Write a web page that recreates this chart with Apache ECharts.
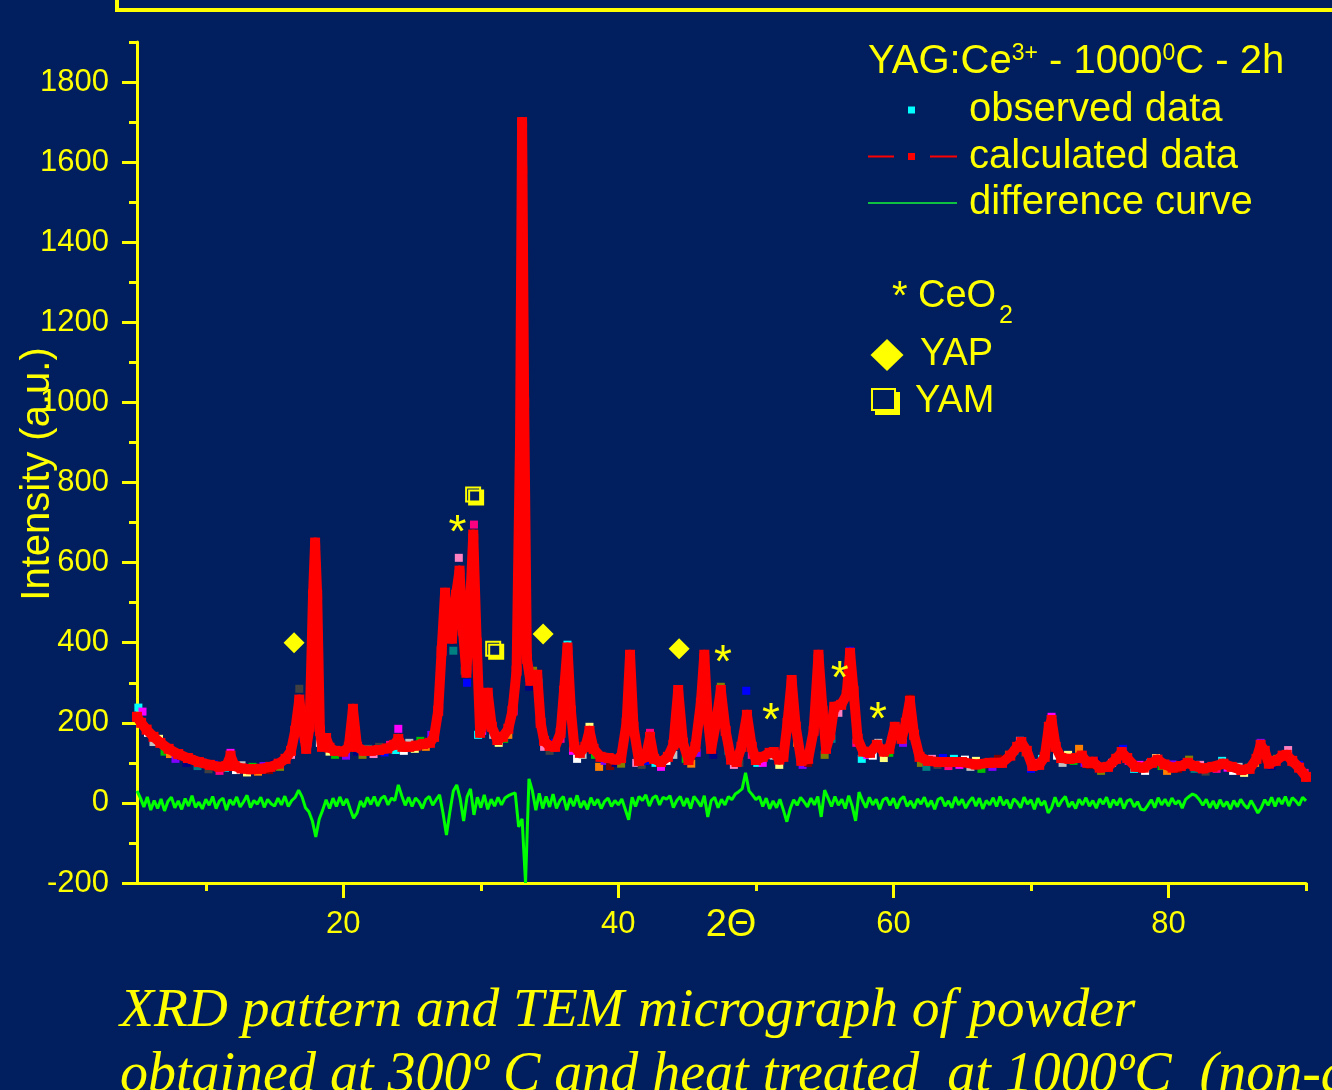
<!DOCTYPE html>
<html>
<head>
<meta charset="utf-8">
<script src="https://cdn.jsdelivr.net/npm/echarts@6/dist/echarts.min.js"></script>
<style>
html,body{margin:0;padding:0;background:#011f5f;}
#chart{width:1332px;height:1090px;}
</style>
</head>
<body>
<div id="chart"></div>
<script>
// ---------- DATA ----------
// calculated pattern: [2theta, intensity]
const calculated = [
[5.0,215],[5.3,200],[5.7,183],[6.2,165],[6.7,150],[7.3,135],[8.0,122],[8.7,112],[9.5,102],[10.3,95],
[11.0,90],[11.5,92],[11.8,118],[12.1,92],[12.6,86],[13.3,84],[14.0,85],[14.7,90],[15.3,98],[15.8,110],
[16.2,130],[16.5,180],[16.8,258],[17.05,190],[17.3,135],[17.55,190],[17.8,520],[17.95,650],[18.1,520],[18.3,180],
[18.45,140],[18.75,162],[19.0,138],[19.4,130],[20.0,128],[20.4,140],[20.7,235],[21.0,140],[21.5,130],[22.0,130],
[22.6,132],[23.2,136],[23.7,145],[24.0,160],[24.3,140],[24.8,140],[25.3,143],[25.8,147],[26.3,150],[26.6,165],
[26.9,230],[27.15,380],[27.4,525],[27.65,450],[27.9,410],[28.2,520],[28.45,580],[28.7,430],[28.95,325],[29.2,480],
[29.45,670],[29.7,400],[29.95,175],[30.2,200],[30.5,275],[30.8,190],[31.2,157],[31.6,165],[32.0,185],[32.3,230],
[32.6,330],[32.85,900],[33.0,1700],[33.15,1000],[33.35,360],[33.6,305],[33.85,315],[34.1,320],[34.35,200],[34.6,155],
[35.0,142],[35.4,140],[35.8,175],[36.05,280],[36.3,388],[36.55,230],[36.8,140],[37.2,125],[37.6,140],[37.9,180],
[38.2,135],[38.7,115],[39.3,112],[39.8,108],[40.2,112],[40.6,200],[40.85,370],[41.1,190],[41.5,105],[42.0,115],
[42.3,165],[42.6,110],[43.1,102],[43.6,115],[44.0,145],[44.35,282],[44.7,150],[45.1,107],[45.6,140],[46.0,250],
[46.25,370],[46.5,210],[46.75,135],[47.1,200],[47.45,282],[47.8,180],[48.2,108],[48.6,102],[48.95,140],[49.35,220],
[49.7,140],[50.0,107],[50.5,115],[51.0,125],[51.3,127],[51.7,108],[52.0,115],[52.3,200],[52.6,307],[52.9,190],
[53.3,105],[53.8,110],[54.2,180],[54.55,370],[54.85,230],[55.1,135],[55.4,170],[55.7,240],[56.2,245],[56.6,270],
[56.85,375],[57.1,280],[57.4,160],[57.8,128],[58.3,125],[58.8,145],[59.3,128],[59.7,135],[60.1,190],[60.35,175],
[60.6,160],[60.9,200],[61.2,255],[61.5,170],[61.9,115],[62.5,105],[63.3,102],[64.1,102],[65.0,102],[66.0,96],
[67.0,100],[67.9,100],[68.5,118],[69.0,140],[69.3,152],[69.7,130],[70.1,92],[70.6,95],[71.0,115],[71.3,190],
[71.5,207],[71.8,140],[72.2,112],[72.8,110],[73.3,112],[73.7,118],[74.1,100],[74.5,103],[75.0,88],[75.6,90],
[76.2,110],[76.6,127],[77.0,112],[77.6,90],[78.2,88],[78.8,100],[79.2,108],[79.7,96],[80.3,88],[80.9,92],
[81.4,100],[81.9,92],[82.5,86],[83.2,90],[84.0,98],[84.6,90],[85.3,82],[85.9,85],[86.4,110],[86.7,145],
[87.0,130],[87.3,98],[87.8,105],[88.3,118],[88.6,120],[89.0,105],[89.5,88],[90.0,65]
];

// observed points: [2theta, intensity]
const observed = [
[5.1,238],[5.4,228],[5.8,175],[6.2,152],[6.6,160],[7.0,128],[7.4,122],[7.8,110],[8.2,118],[8.6,100],
[9.0,108],[9.4,92],[9.8,100],[10.2,84],[10.6,96],[11.0,80],[11.4,88],[11.8,125],[12.2,82],[12.6,94],
[13.0,76],[13.4,90],[13.8,78],[14.2,92],[14.6,82],[15.0,98],[15.4,90],[15.8,112],[16.2,120],[16.8,285],
[17.1,160],[17.4,150],[17.9,610],[18.0,450],[18.3,150],[18.6,140],[19.0,128],[19.4,120],[19.8,130],[20.2,118],
[20.6,150],[21.0,128],[21.4,120],[21.8,135],[22.2,122],[22.6,140],[23.0,126],[23.4,145],[23.8,132],[24.0,185],
[24.4,130],[24.8,150],[25.2,135],[25.6,155],[26.0,140],[26.4,170],[26.8,210],[27.3,480],[27.7,420],[28.0,380],
[28.4,612],[28.8,330],[29.0,300],[29.5,695],[29.8,170],[30.1,180],[30.5,260],[30.9,170],[31.3,150],[31.7,160],
[32.0,170],[32.4,230],[33.1,1580],[33.5,290],[33.8,330],[34.2,300],[34.6,140],[35.0,130],[35.4,150],[35.8,160],
[36.3,395],[36.7,130],[37.0,110],[37.4,120],[37.9,190],[38.3,120],[38.6,90],[39.0,105],[39.4,92],[39.8,100],
[40.2,98],[40.85,360],[41.3,100],[41.7,95],[42.0,105],[42.3,175],[42.7,100],[43.1,90],[43.5,105],[44.0,120],
[44.4,275],[44.9,110],[45.3,98],[45.7,125],[46.3,360],[46.9,120],[47.45,290],[48.0,130],[48.4,95],[48.8,100],
[49.3,280],[49.7,120],[50.1,100],[50.5,100],[50.9,120],[51.3,118],[51.7,95],[52.6,300],[53.0,150],[53.4,95],
[53.8,100],[54.55,360],[55.0,120],[55.5,160],[56.0,225],[56.3,250],[56.85,380],[57.3,150],[57.7,110],[58.1,120],
[58.5,118],[58.9,150],[59.3,112],[59.7,125],[60.3,185],[60.7,150],[61.2,260],[61.6,140],[62.0,100],[62.4,90],
[62.8,110],[63.2,95],[63.6,112],[64.0,92],[64.4,110],[64.8,95],[65.2,108],[65.6,90],[66.0,105],[66.4,85],
[66.8,100],[67.2,90],[67.6,110],[68.0,100],[68.4,120],[68.8,130],[69.2,155],[69.6,125],[70.0,85],[70.4,100],
[70.8,110],[71.5,215],[71.9,118],[72.3,100],[72.7,120],[73.1,105],[73.5,135],[73.9,100],[74.3,95],[74.7,105],
[75.1,80],[75.5,92],[75.9,100],[76.3,115],[76.7,135],[77.1,105],[77.5,85],[77.9,95],[78.3,80],[78.7,100],
[79.1,112],[79.5,92],[79.9,80],[80.3,96],[80.7,85],[81.1,100],[81.5,108],[81.9,85],[82.3,95],[82.7,78],
[83.1,92],[83.5,85],[83.9,105],[84.3,88],[84.7,80],[85.1,90],[85.5,75],[85.9,88],[86.3,100],[86.7,150],
[87.1,110],[87.5,92],[87.9,110],[88.3,120],[88.7,132],[89.1,100],[89.5,95],[89.9,75]
];

// difference curve, sampled every 0.25 deg starting at 5 deg
const diffStart = 5;
const diffStep = 0.25;
const difference = [
30,12,-10,15,-18,6,-14,10,-20,4,14,-12,5,-16,11,-8,18,-11,2,-15,
9,-6,16,-14,5,12,-18,8,-5,15,-10,3,19,-12,6,-3,14,-11,9,-2,
-8,12,-5,17,-9,6,14,32,15,-12,-22,-45,-85,-40,-18,8,-14,12,-9,15,
-6,10,-15,-38,-25,5,-10,14,-4,16,-8,11,17,-5,12,6,45,18,-6,14,
-9,12,3,-14,9,16,-6,8,20,-25,-80,-22,30,45,10,-45,15,35,-30,14,
-12,20,-16,9,-8,14,-5,12,18,22,25,-60,-40,-200,60,30,-18,24,-14,16,
-10,22,-14,6,16,-18,12,-8,19,-12,5,-16,13,-6,9,-14,4,12,-9,6,
-5,10,-16,-42,14,-9,16,6,20,-8,12,18,-5,14,9,18,-12,6,16,-8,
12,-14,16,5,-9,18,-35,6,14,-12,9,-5,16,8,22,28,35,75,30,20,
8,16,-9,12,-15,5,-12,9,-18,-47,-14,8,-6,14,3,-10,12,-5,16,-35,
32,12,-9,16,-6,9,-14,18,-8,-45,27,6,-12,14,-5,9,-16,8,13,-6,
12,-14,8,16,-9,5,-13,10,-3,14,-10,6,-16,9,13,-8,5,-12,15,-5,
9,-13,3,14,-8,12,-15,6,-5,13,-9,16,-6,8,-14,10,2,-12,14,-3,
8,-16,12,-6,5,-25,-12,14,-9,6,16,-10,3,-14,9,-5,13,-8,6,-13,
10,-3,14,-12,8,-6,12,-14,5,9,-10,3,-16,-18,-6,8,-12,13,-5,9,
-8,12,-3,6,-13,9,16,22,18,8,-6,9,-12,5,-14,8,-9,3,-16,6,
-10,9,-5,-14,6,-9,-25,-12,8,-6,14,-9,12,-3,16,-8,13,5,-6,14,
5
];

// phase markers
const yapMarks = [[16.42,400],[34.53,422],[44.42,385]];
const ceo2Marks = [[28.3,695],[47.6,372],[51.1,225],[56.1,332],[58.87,228]];
const yamMarks = [[29.44,770],[30.9,385]];

// axis ticks
const xTicks = [20,40,60,80];
const xMinorTicks = [10,30,50,70,90];
const yTicks = [-200,0,200,400,600,800,1000,1200,1400,1600,1800];
const yMinorTicks = [-100,100,300,500,700,900,1100,1300,1500,1700,1900];

// ---------- CHART ----------
const Y = '#ffff00';
const BG = '#011f5f';
const SANS = '"Liberation Sans", Arial, sans-serif';
const SERIF = '"Liberation Serif", "Times New Roman", serif';
const palette = ['#00ffff','#ff00ff','#ffffff','#c0c0c0','#ffff80','#00c000','#ff8000','#8000ff',
                 '#800000','#000080','#808000','#008080','#ff80c0','#404040','#0000ff','#ff0080'];

const diffData = difference.map((v, i) => [diffStart + i * diffStep, v]);

const chart = echarts.init(document.getElementById('chart'), null, {renderer: 'canvas'});

function txt(text, x, y, size, opts) {
  return Object.assign({
    type: 'text', x: x, y: y, z: 100,
    style: Object.assign({
      text: text, fill: Y, fontSize: size, fontFamily: SANS,
      align: 'left', verticalAlign: 'middle'
    }, (opts && opts.style) || {})
  }, (opts && opts.el) || {});
}

const plain = v => String(v);

const option = {
  backgroundColor: BG,
  animation: false,
  grid: {left: 137, right: 26, top: 42, bottom: 207, containLabel: false},
  xAxis: [
    {
      type: 'value', min: 5, max: 90, position: 'bottom',
      axisLine: {show: true, onZero: false, lineStyle: {color: Y, width: 3}},
      axisTick: {show: true, customValues: xTicks, length: 15, lineStyle: {color: Y, width: 3}},
      axisLabel: {customValues: xTicks, formatter: plain, color: Y, fontSize: 31, margin: 26, fontFamily: SANS},
      splitLine: {show: false}
    },
    {
      type: 'value', min: 5, max: 90, position: 'bottom',
      axisLine: {show: false, onZero: false},
      axisTick: {show: true, customValues: xMinorTicks, length: 8, lineStyle: {color: Y, width: 3}},
      axisLabel: {show: false},
      splitLine: {show: false}
    }
  ],
  yAxis: [
    {
      type: 'value', min: -200, max: 1900, position: 'left',
      axisLine: {show: true, onZero: false, lineStyle: {color: Y, width: 3}},
      axisTick: {show: true, customValues: yTicks, length: 15, lineStyle: {color: Y, width: 3}},
      axisLabel: {customValues: yTicks, formatter: plain, color: Y, fontSize: 31, margin: 28, fontFamily: SANS},
      splitLine: {show: false}
    },
    {
      type: 'value', min: -200, max: 1900, position: 'left',
      axisLine: {show: false, onZero: false},
      axisTick: {show: true, customValues: yMinorTicks, length: 8, lineStyle: {color: Y, width: 3}},
      axisLabel: {show: false},
      splitLine: {show: false}
    }
  ],
  series: [
    {
      name: 'observed data', type: 'scatter', data: observed,
      xAxisIndex: 0, yAxisIndex: 0,
      symbol: 'rect', symbolSize: 8, z: 2,
      itemStyle: {opacity: 1, color: p => palette[p.dataIndex % palette.length]}
    },
    {
      name: 'calculated data', type: 'line', data: calculated,
      xAxisIndex: 0, yAxisIndex: 0,
      symbol: 'rect', symbolSize: 10, showSymbol: true, showAllSymbol: true, z: 3,
      itemStyle: {color: '#ff0000', opacity: 1},
      lineStyle: {color: '#ff0000', width: 10, cap: 'round', join: 'round'}
    },
    {
      name: 'difference curve', type: 'line', data: diffData,
      xAxisIndex: 0, yAxisIndex: 0,
      symbol: 'none', z: 4,
      lineStyle: {color: '#00ff00', width: 3}
    },
    {
      name: 'YAP', type: 'scatter', data: yapMarks,
      xAxisIndex: 0, yAxisIndex: 0,
      symbol: 'diamond', symbolSize: 21, z: 6,
      itemStyle: {color: Y, opacity: 1}
    },
    {
      name: 'CeO2', type: 'scatter', data: ceo2Marks,
      xAxisIndex: 0, yAxisIndex: 0,
      symbol: 'circle', symbolSize: 1, z: 6,
      itemStyle: {color: 'rgba(0,0,0,0)', opacity: 1},
      label: {show: true, position: 'inside', formatter: '*', color: Y, opacity: 1,
              fontSize: 46, fontFamily: SANS, offset: [0, 10]}
    },
    {
      name: 'YAM', type: 'scatter', data: yamMarks,
      xAxisIndex: 0, yAxisIndex: 0,
      symbol: 'rect', symbolSize: 14, z: 6,
      itemStyle: {color: BG, opacity: 1, borderColor: Y, borderWidth: 2,
                  shadowColor: Y, shadowBlur: 0, shadowOffsetX: 3, shadowOffsetY: 3}
    }
  ],
  graphic: [
    // top frame
    {type: 'rect', z: 100, shape: {x: 117, y: -30, width: 1300, height: 40},
     style: {fill: 'none', stroke: Y, lineWidth: 4}},
    // legend block 1
    {
      type: 'text', x: 868, y: 62, z: 100,
      style: {
        text: 'YAG:Ce{sup|3+} - 1000{sup|0}C - 2h',
        fill: Y, fontSize: 40, fontFamily: SANS, align: 'left', verticalAlign: 'middle',
        rich: {sup: {fontSize: 23, fontFamily: SANS, fill: Y, verticalAlign: 'top', padding: [0, 0, 8, 0]}}
      }
    },
    {type: 'rect', z: 100, shape: {x: 908, y: 106.5, width: 7, height: 7}, style: {fill: '#00ffff'}},
    txt('observed data', 969, 110, 40),
    {type: 'line', z: 100, shape: {x1: 868, y1: 156.5, x2: 894, y2: 156.5}, style: {stroke: '#ff0000', lineWidth: 2}},
    {type: 'rect', z: 100, shape: {x: 908, y: 153, width: 7, height: 7}, style: {fill: '#ff0000'}},
    {type: 'line', z: 100, shape: {x1: 930, y1: 156.5, x2: 957, y2: 156.5}, style: {stroke: '#ff0000', lineWidth: 2}},
    txt('calculated data', 969, 157, 40),
    {type: 'line', z: 100, shape: {x1: 868, y1: 203, x2: 957, y2: 203}, style: {stroke: '#10c040', lineWidth: 2}},
    txt('difference curve', 969, 203, 40),
    // legend block 2
    txt('*', 892, 298, 40),
    txt('CeO', 918, 297, 38),
    txt('2', 999, 316, 25),
    {type: 'polygon', z: 100, shape: {points: [[887, 339], [903.5, 355], [887, 371], [870.5, 355]]}, style: {fill: Y}},
    txt('YAP', 920, 355, 38),
    {type: 'rect', z: 100, shape: {x: 875, y: 392, width: 25, height: 23}, style: {fill: Y}},
    {type: 'rect', z: 101, shape: {x: 872, y: 389, width: 23, height: 21}, style: {fill: BG, stroke: Y, lineWidth: 2}},
    txt('YAM', 915, 402, 38),
    // axis titles
    txt('Intensity (a.u.)', 38, 474, 40, {style: {align: 'center'}, el: {rotation: Math.PI / 2}}),
    txt('2\u0398', 731, 926, 38, {style: {align: 'center'}}),
    // caption
    txt('XRD pattern and TEM micrograph of powder', 120, 1011, 55.5,
        {style: {fontFamily: SERIF, fontStyle: 'italic'}}),
    txt('obtained at 300\u00ba C and heat treated  at 1000\u00baC  (non-doped)', 120, 1076, 56,
        {style: {fontFamily: SERIF, fontStyle: 'italic'}})
  ]
};

chart.setOption(option);
</script>
</body>
</html>
